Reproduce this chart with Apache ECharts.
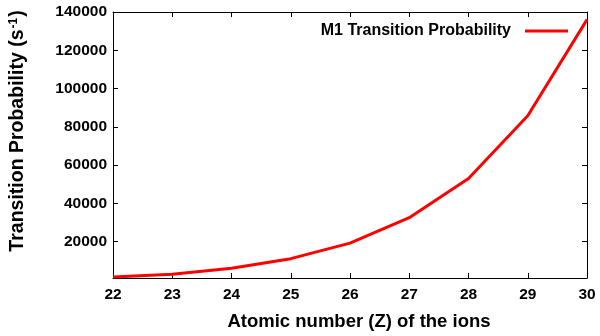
<!DOCTYPE html>
<html>
<head>
<meta charset="utf-8">
<script src="https://cdn.jsdelivr.net/npm/echarts@6/dist/echarts.min.js"></script>
<style>
  html, body { margin: 0; padding: 0; background: #fff; }
  #chart { width: 600px; height: 336px; }
</style>
</head>
<body>
<div id="chart"></div>
<script>
// atomic number Z and M1 transition probability (s^-1)
var zValues = [22, 23, 24, 25, 26, 27, 28, 29, 30];
var m1Prob = [1550, 2950, 6100, 11100, 19200, 32500, 53000, 85800, 136000];
var yTicks = [20000, 40000, 60000, 80000, 100000, 120000, 140000];

var font = "'Liberation Sans', Arial, sans-serif";
var chart = echarts.init(document.getElementById('chart'));

var option = {
  animation: false,
  backgroundColor: '#fff',
  grid: { left: 109, right: 13, top: 12, bottom: 52 },
  legend: {
    right: 27,
    top: 18,
    align: 'right',
    icon: 'rect',
    itemWidth: 43,
    itemHeight: 3,
    textStyle: { fontFamily: font, fontWeight: 'bold', fontSize: 16, color: '#000', padding: [0, 9, 0, 0] },
    data: ['M1 Transition Probability']
  },
  xAxis: [
    {
      type: 'value',
      min: 22, max: 30, interval: 1,
      name: 'Atomic number (Z) of the ions',
      nameLocation: 'middle',
      nameGap: 34,
      nameTextStyle: { fontFamily: font, fontWeight: 'bold', fontSize: 18.5, color: '#000', padding: [0, 0, 0, 18] },
      axisLine: { lineStyle: { color: '#000', width: 1 } },
      axisTick: { inside: true, length: 5, lineStyle: { color: '#000' } },
      axisLabel: { fontFamily: font, fontWeight: 'bold', fontSize: 15.5, color: '#000', margin: 9 },
      splitLine: { show: false }
    },
    {
      type: 'value', position: 'top',
      min: 22, max: 30, interval: 1,
      axisLine: { lineStyle: { color: '#000', width: 1 } },
      axisTick: { inside: true, length: 5, lineStyle: { color: '#000' } },
      axisLabel: { show: false },
      splitLine: { show: false }
    }
  ],
  yAxis: [
    {
      type: 'value',
      min: 1000, max: 140000,
      name: '{t|Transition Probability (s}{s|-1}{t|)}',
      nameLocation: 'middle',
      nameGap: 85,
      nameTextStyle: {
        padding: [0, 0, 0, 28],
        rich: {
          t: { fontFamily: font, fontWeight: 'bold', fontSize: 19.5, color: '#000' },
          s: { fontFamily: font, fontWeight: 'bold', fontSize: 12, color: '#000', verticalAlign: 'top', padding: [0, 1, 8, 1] }
        }
      },
      axisLine: { show: true, lineStyle: { color: '#000', width: 1 } },
      axisTick: { show: true, inside: true, length: 5, customValues: yTicks, lineStyle: { color: '#000' } },
      axisLabel: {
        fontFamily: font, fontWeight: 'bold', fontSize: 15.5, color: '#000', margin: 6,
        customValues: yTicks,
        formatter: function (v) { return String(v); }
      },
      splitLine: { show: false }
    },
    {
      type: 'value', position: 'right',
      min: 1000, max: 140000,
      axisLine: { show: true, lineStyle: { color: '#000', width: 1 } },
      axisTick: { show: true, inside: true, length: 5, customValues: yTicks, lineStyle: { color: '#000' } },
      axisLabel: { show: false, customValues: yTicks },
      splitLine: { show: false }
    }
  ],
  series: [
    {
      name: 'M1 Transition Probability',
      type: 'line',
      symbol: 'none',
      data: zValues.map(function (z, i) { return [z, m1Prob[i]]; }),
      lineStyle: { color: '#f00', width: 3 },
      itemStyle: { color: '#f00' }
    }
  ]
};

chart.setOption(option);
</script>
</body>
</html>
